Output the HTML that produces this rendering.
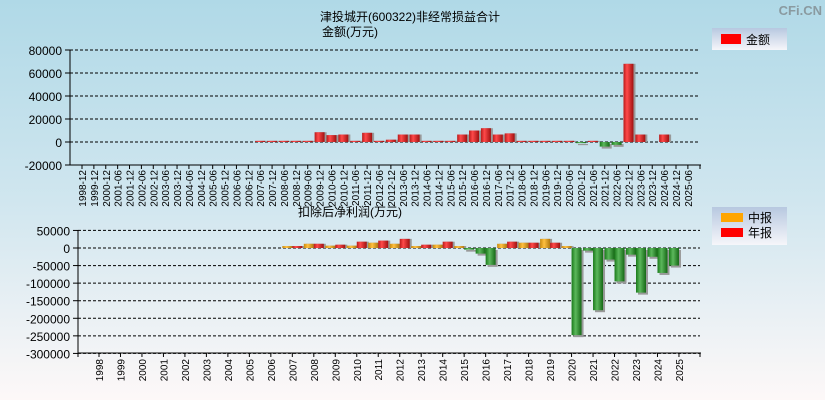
<!DOCTYPE html>
<html><head><meta charset="utf-8"><style>
body{margin:0;width:825px;height:400px;overflow:hidden;font-family:"Liberation Sans","Noto Sans CJK SC",sans-serif;}
svg{display:block}
</style></head><body>
<svg id="c" width="825" height="400" xmlns="http://www.w3.org/2000/svg">
<defs>
<linearGradient id="bg" x1="0" y1="0" x2="0" y2="1">
<stop offset="0" stop-color="#b0d9e7"/><stop offset="0.5" stop-color="#d0e6ef"/><stop offset="1" stop-color="#fdf8f8"/></linearGradient>
<linearGradient id="gr" x1="0" x2="1"><stop offset="0" stop-color="#b81a1a"/><stop offset="0.35" stop-color="#ff4a4a"/><stop offset="1" stop-color="#a01010"/></linearGradient>
<linearGradient id="gg" x1="0" x2="1"><stop offset="0" stop-color="#1a7a1a"/><stop offset="0.4" stop-color="#5cb85c"/><stop offset="1" stop-color="#156815"/></linearGradient>
<linearGradient id="go" x1="0" x2="1"><stop offset="0" stop-color="#c88a10"/><stop offset="0.4" stop-color="#ffc040"/><stop offset="1" stop-color="#b07810"/></linearGradient>
<linearGradient id="lg" x1="0" y1="0" x2="0" y2="1"><stop offset="0" stop-color="#b7c8e0"/><stop offset="1" stop-color="#f6f6fa"/></linearGradient>
</defs>
<rect width="825" height="400" fill="url(#bg)"/>
<text x="410" y="21" font-size="12" text-anchor="middle">津投城开(600322)非经常损益合计</text>
<text x="350" y="36" font-size="12" text-anchor="middle">金额(万元)</text>
<text x="822" y="15" font-size="13" fill="#8a9aa0" text-anchor="end" font-weight="bold">CFi.CN</text>
<g><rect x="712" y="28" width="75" height="22" fill="url(#lg)"/><rect x="721" y="34" width="20" height="10" fill="#f00"/><text x="746" y="44" font-size="12">金额</text></g>
<text x="298" y="216" font-size="12">扣除后净利润(万元)</text>
<g><rect x="712" y="207" width="75" height="38" fill="url(#lg)"/><rect x="721" y="213" width="22" height="9" fill="#ffa500"/><text x="748" y="222" font-size="12">中报</text><rect x="721" y="228" width="22" height="9" fill="#f00"/><text x="748" y="237" font-size="12">年报</text></g>
<g id="top"></g><g id="bot"></g>
</svg>
<script>
const topCats=["1998-12","1999-12","2000-12","2001-06","2001-12","2002-06","2002-12","2003-06","2003-12","2004-06","2004-12","2005-06","2005-12","2006-06","2006-12","2007-06","2007-12","2008-06","2008-12","2009-06","2009-12","2010-06","2010-12","2011-06","2011-12","2012-06","2012-12","2013-06","2013-12","2014-06","2014-12","2015-06","2015-12","2016-06","2016-12","2017-06","2017-12","2018-06","2018-12","2019-06","2019-12","2020-06","2020-12","2021-06","2021-12","2022-06","2022-12","2023-06","2023-12","2024-06","2024-12","2025-06"];
const topVals=[0,0,0,0,0,0,0,0,0,0,0,0,0,0,0,1000,1000,1000,1000,1000,8500,6000,6500,1000,8000,1000,2000,6500,6500,1000,1000,1000,6500,10000,12000,6500,7500,1000,1000,1000,1000,1000,-1000,1000,-4000,-2500,68000,6500,0,6500,0,0];
const topTicks=[80000,60000,40000,20000,0,-20000];
const botYears=[1998,1999,2000,2001,2002,2003,2004,2005,2006,2007,2008,2009,2010,2011,2012,2013,2014,2015,2016,2017,2018,2019,2020,2021,2022,2023,2024,2025];
const botMid=[null,null,null,null,null,null,null,null,null,5600,12000,6600,6600,15000,12000,5600,9400,5600,-16000,12000,15000,26000,5600,-7500,-33000,-19000,-25000,-50000];
const botAnn=[null,null,null,null,null,null,null,null,null,5600,12000,9400,18000,21000,26000,9400,18000,-4700,-48000,18000,15000,15000,-248000,-177000,-95000,-127000,-71000,null];
const botTicks=[50000,0,-50000,-100000,-150000,-200000,-250000,-300000];
const NS='http://www.w3.org/2000/svg';
function mk(p,t,a,txt){const e=document.createElementNS(NS,t);for(const k in a)e.setAttribute(k,a[k]);if(txt!=null)e.textContent=txt;p.appendChild(e);return e;}
const T=document.getElementById('top');
const ty=v=>142-v*(92/80000), tx=i=>82+i*11.88;
topTicks.forEach(v=>{const y=ty(v);
 const l=mk(T,'line',{x1:70,x2:700,y1:y,y2:y,stroke:'#000','stroke-dasharray':'3,2'});
 
 mk(T,'line',{x1:65,x2:70,y1:y,y2:y,stroke:'#000'});
 const t=mk(T,'text',{x:62,y:y+5,'font-size':12,'text-anchor':'end'},v);
 });
topVals.forEach((v,i)=>{if(!v)return;const x=tx(i),y0=ty(0),y1=ty(v);const top=Math.min(y0,y1),h=Math.max(Math.abs(y1-y0),1);
 mk(T,'rect',{x:x-5+2,y:top+(v<0?2:0),width:10,height:h,fill:'#999'});
 const r=mk(T,'rect',{x:x-5,y:top,width:10,height:h,fill:v<0?'url(#gg)':'url(#gr)'});
 });
mk(T,'line',{x1:70,x2:70,y1:50,y2:165,stroke:'#000'});
mk(T,'line',{x1:70,x2:701,y1:165,y2:165,stroke:'#000'});
topCats.forEach((c,i)=>{const x=tx(i);mk(T,'line',{x1:x,x2:x,y1:165,y2:169,stroke:'#000'});
 const t=mk(T,'text',{transform:`translate(${x+4},170) rotate(-90)`,'font-size':10,'text-anchor':'end'},c);
 });
mk(T,'line',{x1:700,x2:700,y1:165,y2:169,stroke:'#000'});
const B=document.getElementById('bot');
const by=v=>248-v*(17.57/50000), bx=i=>99+i*21.48;
botTicks.forEach(v=>{const y=by(v);
 const l=mk(B,'line',{x1:78,x2:700,y1:y,y2:y,stroke:'#000','stroke-dasharray':'3,2'});
 
 mk(B,'line',{x1:73,x2:78,y1:y,y2:y,stroke:'#000'});
 const t=mk(B,'text',{x:70,y:y+5,'font-size':12,'text-anchor':'end'},v);
 });
function bar(v,x,pos,name){if(v==null||v===0)return;const y0=by(0),y1=by(v);const top=Math.min(y0,y1),h=Math.max(Math.abs(y1-y0),1);
 mk(B,'rect',{x:x+2,y:top+(v<0?2:0),width:10,height:h,fill:'#999'});
 const r=mk(B,'rect',{x:x,y:top,width:10,height:h,fill:v<0?'url(#gg)':(pos?'url(#go)':'url(#gr)')});
 }
botYears.forEach((yr,i)=>{const x=bx(i);bar(botMid[i],x-10,true,'mid-bar-'+yr);bar(botAnn[i],x,false,'annual-bar-'+yr);});
mk(B,'line',{x1:78,x2:78,y1:230,y2:353,stroke:'#000'});
mk(B,'line',{x1:78,x2:701,y1:353,y2:353,stroke:'#000'});
mk(B,'line',{x1:78,x2:78,y1:353,y2:357,stroke:'#000'});
mk(B,'line',{x1:700,x2:700,y1:353,y2:357,stroke:'#000'});
botYears.forEach((yr,i)=>{const x=bx(i);mk(B,'line',{x1:x,x2:x,y1:353,y2:357,stroke:'#000'});
 const t=mk(B,'text',{transform:`translate(${x+4},359) rotate(-90)`,'font-size':10,'text-anchor':'end'},yr);
 });
</script>
</body></html>
